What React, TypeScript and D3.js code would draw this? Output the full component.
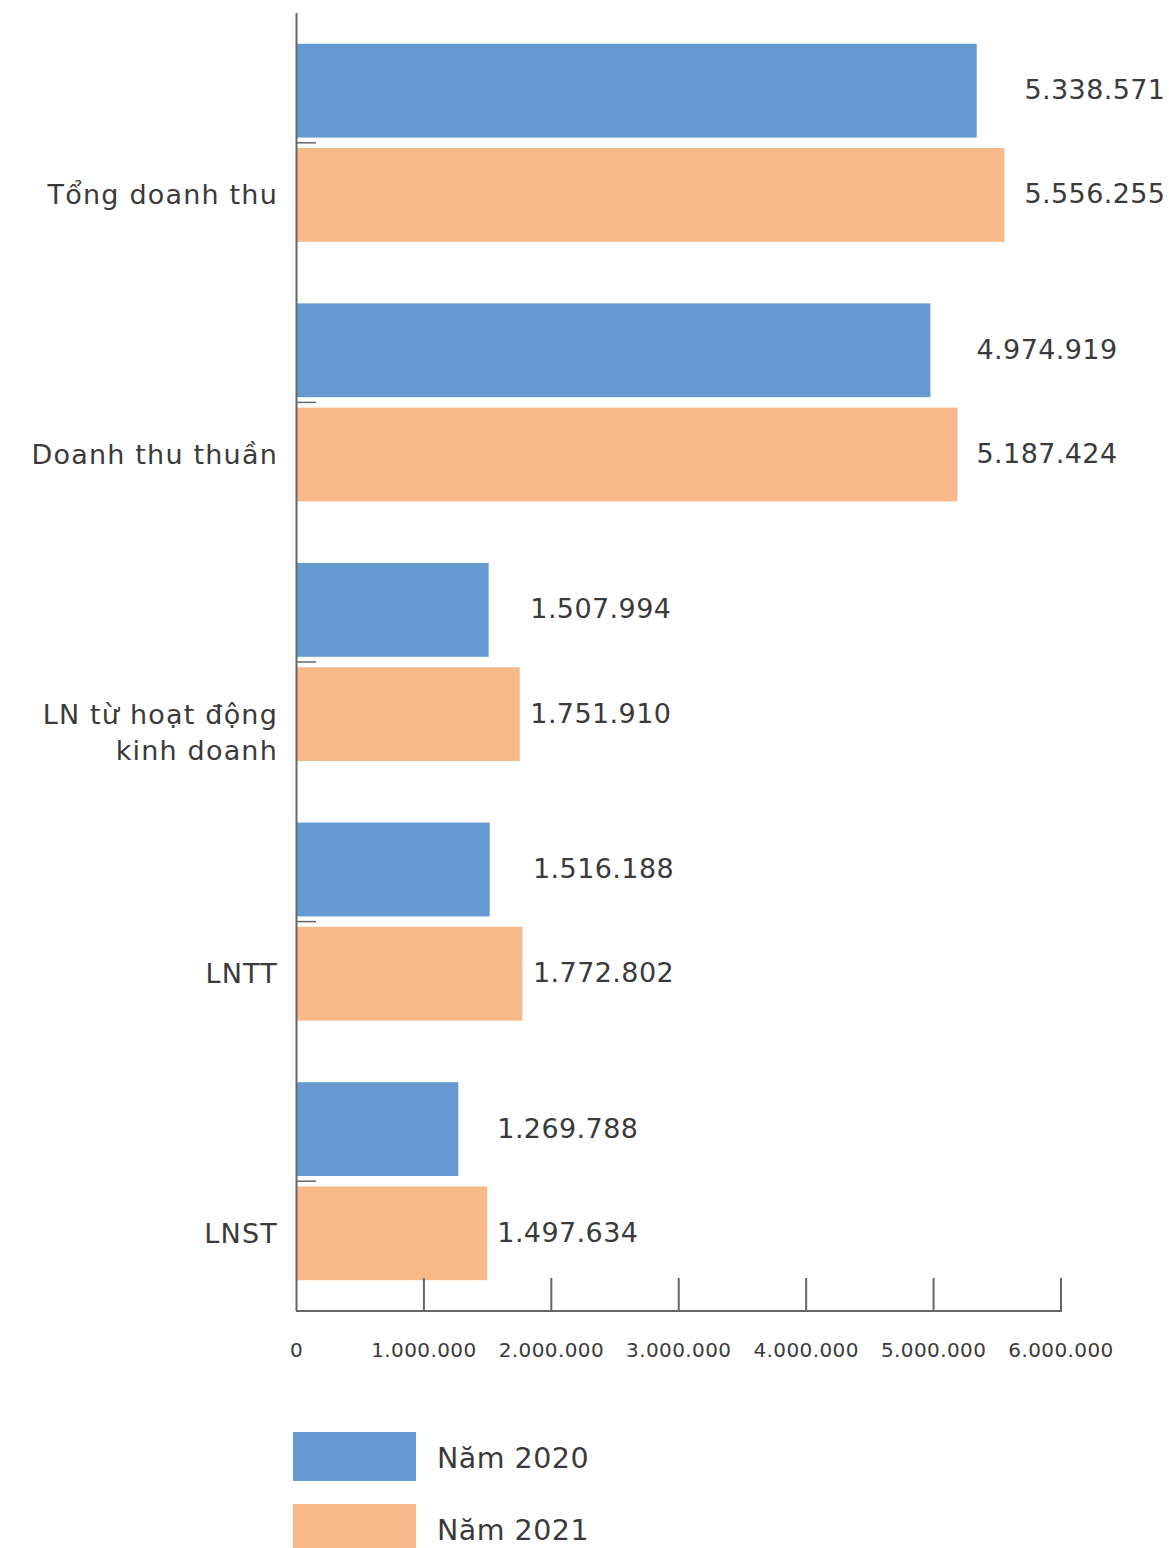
import React from "react";
import * as d3 from "d3";

const categories: string[][] = [
  ["Tổng doanh thu"],
  ["Doanh thu thuần"],
  ["LN từ hoạt động", "kinh doanh"],
  ["LNTT"],
  ["LNST"],
];
const seriesNames = ["Năm 2020", "Năm 2021"];
const values2020 = [5338571, 4974919, 1507994, 1516188, 1269788];
const values2021 = [5556255, 5187424, 1751910, 1772802, 1497634];
const labels2020 = ["5.338.571", "4.974.919", "1.507.994", "1.516.188", "1.269.788"];
const labels2021 = ["5.556.255", "5.187.424", "1.751.910", "1.772.802", "1.497.634"];
const xTicks = [0, 1000000, 2000000, 3000000, 4000000, 5000000, 6000000];
const xTickLabels = ["0", "1.000.000", "2.000.000", "3.000.000", "4.000.000", "5.000.000", "6.000.000"];
const colors = ["#6699D1", "#F8B98A"];

const W = 1169;
const H = 1548;
const FONT = "'DejaVu Sans', 'Open Sans', sans-serif";
const TEXT = "#3a3a3a";
const AXIS = "#666666";

export default function App() {
  const x = d3.scaleLinear().domain([0, 6000000]).range([296.5, 1061]);
  const keys = categories.map((c) => c.join(" "));
  const y = d3.scaleBand<string>().domain(keys).range([13, 1311]).paddingInner(0.237).paddingOuter(0.1185);
  const ys = d3.scaleBand<string>().domain(seriesNames).range([0, y.bandwidth()]).paddingInner(0.1);
  const series = [values2020, values2021];
  const labels = [labels2020, labels2021];
  const axisBottom = 1311;

  return (
    <svg width={W} height={H} style={{ position: "absolute", left: 0, top: 0, background: "#fff" }} fontFamily={FONT}>
      <rect x={0} y={0} width={W} height={H} fill="#fff" />
      {keys.map((k, i) => {
        const y0 = y(k)!;
        const maxV = Math.max(values2020[i], values2021[i]);
        const labelX = x(maxV) + 151 + (10 * (maxV - 1500000)) / 4060000;
        const centerOrange = y0 + ys(seriesNames[1])! + ys.bandwidth() / 2;
        return (
          <g key={k}>
            {series.map((vals, s) => {
              const by = y0 + ys(seriesNames[s])!;
              return (
                <g key={s}>
                  <rect x={x(0)} y={by} width={x(vals[i]) - x(0)} height={ys.bandwidth()} fill={colors[s]} />
                  <text
                    x={labelX}
                    y={by + ys.bandwidth() / 2 - 1}
                    textAnchor="end"
                    dominantBaseline="central"
                    fontSize={27}
                    letterSpacing={0.4}
                    fill={TEXT}
                  >
                    {labels[s][i]}
                  </text>
                </g>
              );
            })}
            <line x1={296} x2={316} y1={y0 + y.bandwidth() / 2} y2={y0 + y.bandwidth() / 2} stroke={AXIS} strokeWidth={1.5} />
            {categories[i].map((line, li) => (
              <text
                key={li}
                x={278}
                y={centerOrange + li * 36}
                textAnchor="end"
                dominantBaseline="central"
                fontSize={27}
                letterSpacing={1.2}
                fill={TEXT}
              >
                {line}
              </text>
            ))}
          </g>
        );
      })}
      <line x1={296.5} x2={296.5} y1={13} y2={axisBottom} stroke={AXIS} strokeWidth={2} />
      <line x1={296} x2={x(6000000) + 1} y1={axisBottom} y2={axisBottom} stroke={AXIS} strokeWidth={2} />
      {xTicks.map((t, i) => (
        <g key={t}>
          {t > 0 && <line x1={x(t)} x2={x(t)} y1={1278} y2={axisBottom} stroke={AXIS} strokeWidth={2} />}
          <text x={x(t)} y={1350} textAnchor="middle" dominantBaseline="central" fontSize={20} letterSpacing={0.4} fill={TEXT}>
            {xTickLabels[i]}
          </text>
        </g>
      ))}
      {seriesNames.map((n, s) => (
        <g key={n}>
          <rect x={293} y={1432 + s * 72} width={123} height={49} fill={colors[s]} />
          <text x={437} y={1458 + s * 72} dominantBaseline="central" fontSize={28.5} letterSpacing={0.5} fill={TEXT}>
            {n}
          </text>
        </g>
      ))}
    </svg>
  );
}
